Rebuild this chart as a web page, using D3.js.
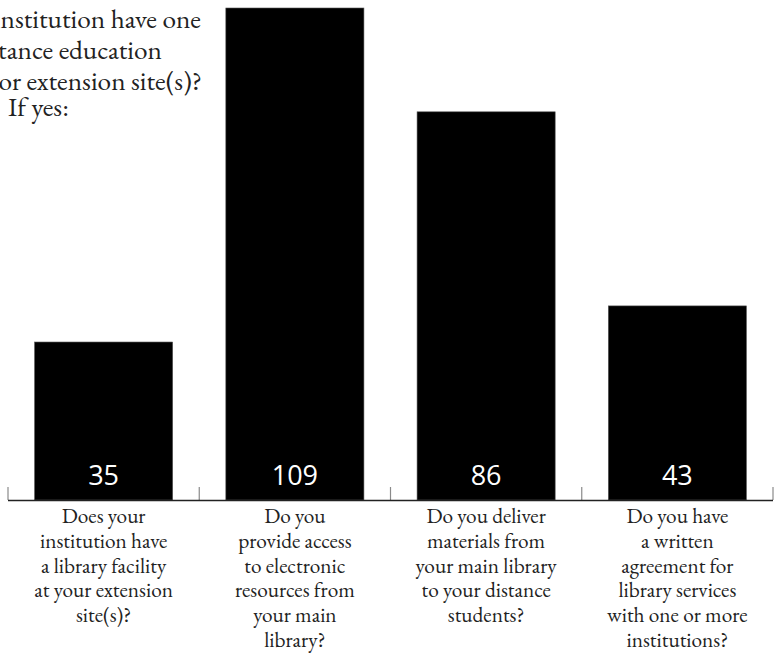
<!DOCTYPE html>
<html>
<head>
<meta charset="utf-8">
<script src="https://cdn.jsdelivr.net/npm/d3@7"></script>
<style>
  html, body { margin: 0; padding: 0; background: #fff; }
  svg { display: block; }
</style>
</head>
<body>
<svg id="chart" width="777" height="655"></svg>
<script>
// Survey question categories (short keys) and their wrapped label lines
const categories = ["facility", "electronic", "deliver", "agreement"];
const categoryLines = [
  ["Does your", "institution have", "a library facility", "at your extension", "site(s)?"],
  ["Do you", "provide access", "to electronic", "resources from", "your main", "library?"],
  ["Do you deliver", "materials from", "your main library", "to your distance", "students?"],
  ["Do you have", "a written", "agreement for", "library services", "with one or more", "institutions?"]
];
// Number of "yes" responses per question
const values = [35, 109, 86, 43];

// Heading lines of the lead-in question
const headingLines = ["Does your institution have one", "or more distance education", "centers or extension site(s)?"];
const headingFollow = "If yes:";

const svg = d3.select("#chart");
const left = 8, right = 773, baseY = 500, topY = 8;

const x = d3.scaleBand()
  .domain(categories)
  .range([left, right])
  .paddingInner(0.278)
  .paddingOuter(0.139);

const y = d3.scaleLinear()
  .domain([0, d3.max(values)])
  .range([baseY, topY]);

const data = categories.map((c, i) => ({ key: c, value: values[i], lines: categoryLines[i] }));

// Bars
svg.append("g")
  .selectAll("rect")
  .data(data)
  .join("rect")
  .attr("x", d => x(d.key))
  .attr("y", d => y(d.value))
  .attr("width", x.bandwidth())
  .attr("height", d => y(0) - y(d.value))
  .attr("fill", "#000")
  .attr("stroke", "#555")
  .attr("stroke-width", 0.6);

// Value labels inside each bar, near the base
svg.append("g")
  .selectAll("text")
  .data(data)
  .join("text")
  .attr("x", d => x(d.key) + x.bandwidth() / 2)
  .attr("y", y(0) - 15)
  .attr("text-anchor", "middle")
  .attr("fill", "#fff")
  .attr("font-family", "'Open Sans', 'Noto Sans', sans-serif")
  .attr("font-size", 27)
  .text(d => d.value);

// Baseline axis with separators between categories
const step = x.step();
const half = step * x.paddingInner() / 2;
const boundaries = categories.map(c => x(c) - half).concat([x(categories[categories.length - 1]) + x.bandwidth() + half]);

const axis = svg.append("g");
axis.selectAll("line.tick")
  .data(boundaries)
  .join("line")
  .attr("class", "tick")
  .attr("x1", d => d).attr("x2", d => d)
  .attr("y1", baseY - 13).attr("y2", baseY)
  .attr("stroke", "#8a8a8a")
  .attr("stroke-width", 1.2);
axis.append("line")
  .attr("x1", boundaries[0]).attr("x2", boundaries[boundaries.length - 1])
  .attr("y1", baseY + 0.5).attr("y2", baseY + 0.5)
  .attr("stroke", "#222")
  .attr("stroke-width", 1.3);

// Category labels, centred under each bar
const serif = "'EB Garamond', 'Liberation Serif', 'DejaVu Serif', serif";
const labels = svg.append("g")
  .selectAll("text")
  .data(data)
  .join("text")
  .attr("text-anchor", "middle")
  .attr("font-family", serif)
  .attr("font-size", 21.3)
  .attr("fill", "#222");
labels.selectAll("tspan")
  .data(d => d.lines.map(l => ({ l, cx: x(d.key) + x.bandwidth() / 2 })))
  .join("tspan")
  .attr("x", d => d.cx)
  .attr("y", (d, i) => 523 + i * 24.8)
  .text(d => d.l);

// Lead-in question at the top left
const heading = svg.append("g")
  .attr("font-family", serif)
  .attr("font-size", 27.3)
  .attr("fill", "#222");
const headEnds = [201, 162, 202];
const headBase = [28, 59, 90];
heading.selectAll("text.h")
  .data(headingLines)
  .join("text")
  .attr("class", "h")
  .attr("text-anchor", "end")
  .attr("x", (d, i) => headEnds[i])
  .attr("y", (d, i) => headBase[i])
  .text(d => d);
heading.append("text")
  .attr("x", 8)
  .attr("y", 116)
  .text(headingFollow);
</script>
</body>
</html>
